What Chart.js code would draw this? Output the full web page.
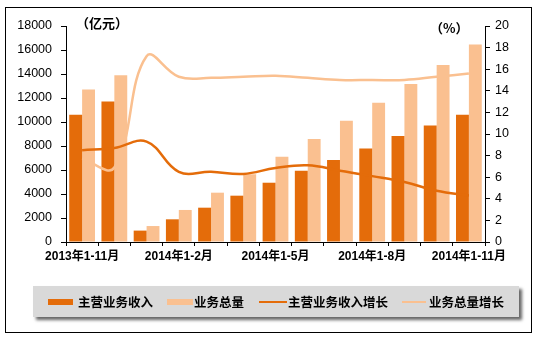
<!DOCTYPE html>
<html>
<head>
<meta charset="utf-8">
<script src="https://cdn.jsdelivr.net/npm/chart.js@4/dist/chart.umd.min.js"></script>
<style>
  html, body { margin: 0; padding: 0; background: #fff; }
  #wrap { position: relative; width: 539px; height: 343px; overflow: hidden; }
  #frame { position: absolute; left: 5px; top: 7px; width: 527px; height: 326px; border: 1px solid #000; box-sizing: border-box; pointer-events: none; }
  #legend { position: absolute; left: 33px; top: 286px; width: 486px; height: 31px; background: #d9d9d9;
            box-shadow: 3px 3px 3px #666; font: bold 12.5px "Noto Sans CJK SC", sans-serif; color: #000; }
  .item { position: absolute; top: 0; height: 31px; line-height: 31px; white-space: nowrap; }
  .sw { position: absolute; }
</style>
</head>
<body>
<div id="wrap">
  <canvas id="chart" width="539" height="343"></canvas>
  <div id="frame"></div>
  <div id="legend"></div>
</div>
<script>
const categories = ['2013年1-11月', '2013年1-12月', '2014年1月', '2014年1-2月', '2014年1-3月', '2014年1-4月',
  '2014年1-5月', '2014年1-6月', '2014年1-7月', '2014年1-8月', '2014年1-9月', '2014年1-10月', '2014年1-11月'];
const revenue = [10600, 11700, 950, 1890, 2860, 3860, 4940, 5940, 6830, 7800, 8830, 9700, 10600];
const volume = [12700, 13900, 1330, 2670, 4110, 5640, 7100, 8580, 10100, 11600, 13170, 14750, 16450];
const revenueGrowth = [8.5, 8.7, 9.3, 6.5, 6.5, 6.3, 6.85, 7.1, 6.6, 6.1, 5.55, 4.75, 4.3];
const volumeGrowth = [7.7, 6.9, 17.2, 15.3, 15.2, 15.3, 15.4, 15.2, 15.0, 15.0, 15.0, 15.3, 15.6];
const seriesNames = ['主营业务收入', '业务总量', '主营业务收入增长', '业务总量增长'];

const DARK = '#e46c0a';
const LIGHT = '#fac090';

// axis unit labels
const unitLabels = {
  id: 'unitLabels',
  afterDraw(chart) {
    const c = chart.ctx;
    c.save();
    c.fillStyle = '#000';
    c.font = 'bold 13px "Noto Sans CJK SC", sans-serif';
    c.textBaseline = 'middle';
    c.textAlign = 'left';
    c.fillText('（亿元）', 76, 23);
    c.fillText('（%）', 430, 28);
    c.restore();
  }
};

new Chart(document.getElementById('chart'), {
  data: {
    labels: categories,
    datasets: [
      { type: 'line', label: seriesNames[2], data: revenueGrowth, yAxisID: 'y1', borderColor: DARK,
        borderWidth: 2.5, pointRadius: 0, tension: 0.4, order: 1 },
      { type: 'line', label: seriesNames[3], data: volumeGrowth, yAxisID: 'y1', borderColor: LIGHT,
        borderWidth: 2.5, pointRadius: 0, tension: 0.4, order: 2 },
      { type: 'bar', label: seriesNames[0], data: revenue, yAxisID: 'y', backgroundColor: DARK,
        categoryPercentage: 0.8, barPercentage: 1.0, order: 3 },
      { type: 'bar', label: seriesNames[1], data: volume, yAxisID: 'y', backgroundColor: LIGHT,
        categoryPercentage: 0.8, barPercentage: 1.0, order: 4 }
    ]
  },
  options: {
    responsive: false,
    animation: false,
    layout: { padding: { top: 26, bottom: 71, left: 0, right: 0 } },
    plugins: { legend: { display: false }, tooltip: { enabled: false } },
    scales: {
      x: {
        offset: true,
        grid: { offset: true, drawOnChartArea: false, color: '#000', tickLength: 4 },
        border: { color: '#000' },
        ticks: {
          autoSkip: false, maxRotation: 0, color: '#000', padding: 3,
          font: { family: '"Liberation Sans", "Noto Sans CJK SC"', size: 12, weight: 'bold' },
          callback: (v, i) => (i % 3 === 0 ? categories[i] : '')
        },
        afterFit: s => { s.height = 30; }
      },
      y: {
        position: 'left', min: 0, max: 18000,
        grid: { drawOnChartArea: false, color: '#000', tickLength: 5 },
        border: { color: '#000' },
        ticks: { stepSize: 2000, color: '#000', padding: 9, callback: v => String(v),
          font: { family: '"Liberation Sans", Arial', size: 12.5 } },
        afterFit: s => { s.width = 66; }
      },
      y1: {
        position: 'right', min: 0, max: 20,
        grid: { drawOnChartArea: false, color: '#000', tickLength: 5 },
        border: { color: '#000' },
        ticks: { stepSize: 2, color: '#000', padding: 5, callback: v => String(v),
          font: { family: '"Liberation Sans", Arial', size: 12.5 } },
        afterFit: s => { s.width = 54; }
      }
    }
  },
  plugins: [unitLabels]
});

// legend in a grey box
const legendItems = [
  { name: seriesNames[0], color: DARK, sx: 15, sw: 25, sh: 6, tx: 45 },
  { name: seriesNames[1], color: LIGHT, sx: 134, sw: 26, sh: 6, tx: 161 },
  { name: seriesNames[2], color: DARK, sx: 226, sw: 28, sh: 2, tx: 255 },
  { name: seriesNames[3], color: LIGHT, sx: 369, sw: 24, sh: 2, tx: 396 }
];
const lg = document.getElementById('legend');
legendItems.forEach(it => {
  const sw = document.createElement('div');
  sw.className = 'sw';
  sw.style.cssText = `left:${it.sx}px;top:${16 - it.sh / 2}px;width:${it.sw}px;height:${it.sh}px;background:${it.color}`;
  lg.appendChild(sw);
  const t = document.createElement('div');
  t.className = 'item';
  t.style.left = it.tx + 'px';
  t.textContent = it.name;
  lg.appendChild(t);
});
</script>
</body>
</html>
